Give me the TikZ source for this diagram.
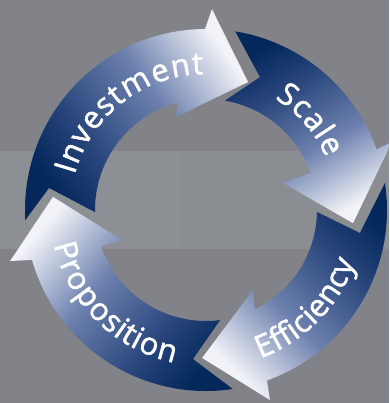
\documentclass[tikz,border=0pt]{standalone}
\usepackage{fontspec}
\newfontfamily\lab{Open Sans}[FakeBold=1.6]
\usetikzlibrary{decorations.text}

\definecolor{bgdark}{RGB}{129,131,137}
\definecolor{bgband}{RGB}{140,143,148}
\definecolor{bgbandr}{RGB}{138,141,146}
\definecolor{navy}{RGB}{4,40,92}
\definecolor{navymid}{RGB}{38,68,122}
\definecolor{steel}{RGB}{108,128,174}
\definecolor{pale}{RGB}{242,243,248}

% dark tail to pale head
\pgfdeclarehorizontalshading{cycleshade}{100bp}{color(0bp)=(navy); color(25bp)=(navy); color(37bp)=(navymid); color(56bp)=(steel); color(75bp)=(pale); color(100bp)=(pale)}

\tikzset{
  cyclearrow/.style={shading=cycleshade, shading angle=#1},
  cyclelabel/.style={decorate, decoration={text effects along path, text={#1},
      text align=center, text effects/.cd, text along path, fit text to path,
      characters={text=white, inner sep=0pt, font=\lab\fontsize{31}{33}\selectfont}}},
}

\begin{document}
\begin{tikzpicture}[x=1pt,y=-1pt]
\useasboundingbox (0,0) rectangle (389,403);
\clip (0,0) rectangle (389,403);
% background with lighter horizontal band
\fill[bgdark] (0,0) rectangle (389,403);
\fill[bgband] (0,151) rectangle (180,249);
\fill[bgbandr] (180,151) rectangle (389,249);

\coordinate (C) at (206,210);
\begin{scope}[shift={(C)}]
  % Investment
  \shade[cyclearrow=35] (183.2:181pt) arc[start angle=183.2, end angle=90.3, radius=181pt]
    -- (88.3:201pt) -- (71.8:134.7pt) -- (107.9:97.7pt)
    -- (104.7:111pt) arc[start angle=104.7, end angle=181.1, radius=111pt]
    -- (172:158.5pt) -- cycle;
  % Scale
  \shade[cyclearrow=-60] (80.7:181pt) arc[start angle=80.7, end angle=19.6, radius=181pt]
    -- (20.1:198pt) -- (-5.1:147.6pt) -- (19.3:81.6pt)
    -- (19.7:111pt) arc[start angle=19.7, end angle=80.2, radius=111pt]
    -- (67.9:143.5pt) -- cycle;
  % Efficiency
  \shade[cyclearrow=-135] (8.6:181pt) arc[start angle=8.6, end angle=-70.3, radius=181pt]
    -- (-71.4:200.5pt) -- (-91.5:148pt) -- (-59.6:92.8pt)
    -- (-63.9:111pt) arc[start angle=-63.9, end angle=-1, radius=111pt]
    -- (-8.5:155.7pt) -- cycle;
  % Proposition
  \shade[cyclearrow=140] (278.5:181pt) arc[start angle=278.5, end angle=196, radius=181pt]
    -- (194.6:202.5pt) -- (175.1:153.6pt) -- (199.7:89.2pt)
    -- (199.2:111pt) arc[start angle=199.2, end angle=277.3, radius=111pt]
    -- (265:149.6pt) -- cycle;

  % labels along the ring
  \path[cyclelabel=Investment] (165:136pt) arc[start angle=165, end angle=91, radius=136pt];
  \path[cyclelabel=Scale] (58.3:131pt) arc[start angle=58.3, end angle=23.6, radius=131pt];
  \path[cyclelabel=Efficiency] (-69.9:158pt) arc[start angle=-69.9, end angle=-19.4, radius=158pt];
  \path[cyclelabel=Proposition] (192.9:156pt) arc[start angle=192.9, end angle=258.2, radius=156pt];
\end{scope}
\end{tikzpicture}
\end{document}
